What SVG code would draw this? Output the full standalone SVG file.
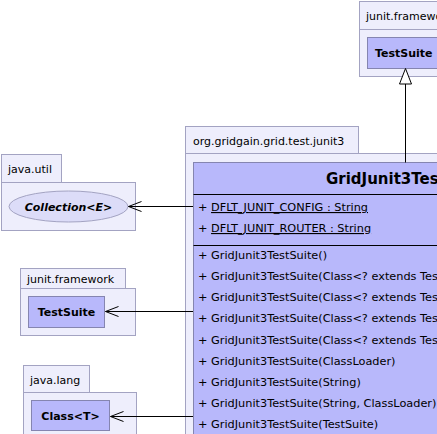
<svg xmlns="http://www.w3.org/2000/svg" width="437" height="434" viewBox="0 0 437 434">
<defs>
<style>
.pkg{fill:#eeeefc;stroke:#a3a3c2;stroke-width:1}
.cls{fill:#b8b8fb;stroke:#8585b0;stroke-width:1}
.ell{fill:#dcdcf8;stroke:#a3a3c2;stroke-width:1}
.t{font-family:"DejaVu Sans","Liberation Sans",sans-serif;font-size:11px;fill:#000}
.m{font-size:11.3px}
.b{font-weight:bold}
.i{font-style:italic}
.sep{stroke:#000;stroke-width:1}
.edge{stroke:#000;stroke-width:1;fill:none}
</style>
</defs>
<rect width="437" height="434" fill="#fff"/>
<g id="pkg-junit-framework-top">
<rect class="pkg" x="359.5" y="1.5" width="90" height="28"/>
<rect class="pkg" x="359.5" y="29.5" width="90" height="47"/>
<text class="t" x="366" y="20">junit.framework</text>
</g>
<g id="TestSuite-top">
<rect class="cls" x="367.5" y="37.5" width="80" height="31"/>
<text class="t b" x="375" y="57">TestSuite</text>
</g>
<g id="pkg-org-gridgain">
<rect class="pkg" x="185.5" y="126.5" width="173" height="27"/>
<rect class="pkg" x="185.5" y="153.5" width="260" height="290"/>
<text class="t" x="193" y="145">org.gridgain.grid.test.junit3</text>
</g>
<g id="GridJunit3TestSuite">
<rect class="cls" x="193.5" y="162.5" width="260" height="280"/>
<text class="t b" x="326" y="184" style="font-size:15px">GridJunit3TestSuite</text>
<line class="sep" x1="193.5" y1="194.5" x2="437" y2="194.5"/>
<text class="t m" x="198" y="211">+ <tspan text-decoration="underline">DFLT_JUNIT_CONFIG : String </tspan></text>
<text class="t m" x="198" y="232">+ <tspan text-decoration="underline">DFLT_JUNIT_ROUTER : String </tspan></text>
<line class="sep" x1="193.5" y1="245.5" x2="437" y2="245.5"/>
<text class="t m" x="198" y="259">+ GridJunit3TestSuite()</text>
<text class="t m" x="198" y="280">+ GridJunit3TestSuite(Class&lt;? extends TestCase&gt;)</text>
<text class="t m" x="198" y="301">+ GridJunit3TestSuite(Class&lt;? extends TestCase&gt;, String)</text>
<text class="t m" x="198" y="322">+ GridJunit3TestSuite(Class&lt;? extends TestCase&gt;[])</text>
<text class="t m" x="198" y="344">+ GridJunit3TestSuite(Class&lt;? extends TestCase&gt;[], String)</text>
<text class="t m" x="198" y="365">+ GridJunit3TestSuite(ClassLoader)</text>
<text class="t m" x="198" y="386">+ GridJunit3TestSuite(String)</text>
<text class="t m" x="198" y="407">+ GridJunit3TestSuite(String, ClassLoader)</text>
<text class="t m" x="198" y="428">+ GridJunit3TestSuite(TestSuite)</text>
</g>
<g id="pkg-java-util">
<rect class="pkg" x="1.5" y="154.5" width="60" height="28"/>
<rect class="pkg" x="1.5" y="182.5" width="134" height="48"/>
<text class="t" x="8" y="173">java.util</text>
</g>
<g id="Collection">
<ellipse class="ell" cx="68.5" cy="206.5" rx="59.5" ry="15.5"/>
<text class="t b i" x="68.5" y="211" text-anchor="middle">Collection&lt;E&gt;</text>
</g>
<g id="pkg-junit-framework-left">
<rect class="pkg" x="20.5" y="268.5" width="105" height="20"/>
<rect class="pkg" x="20.5" y="288.5" width="115" height="47"/>
<text class="t" x="27" y="283">junit.framework</text>
</g>
<g id="TestSuite-left">
<rect class="cls" x="28.5" y="296.5" width="76" height="31"/>
<text class="t b" x="66.5" y="316" text-anchor="middle">TestSuite</text>
</g>
<g id="pkg-java-lang">
<rect class="pkg" x="23.5" y="365.5" width="66" height="27"/>
<rect class="pkg" x="23.5" y="392.5" width="113" height="50"/>
<text class="t" x="30" y="384">java.lang</text>
</g>
<g id="Class">
<rect class="cls" x="31.5" y="400.5" width="78" height="30"/>
<text class="t b" x="70.5" y="420" text-anchor="middle">Class&lt;T&gt;</text>
</g>
<g id="connectors">
<line class="edge" x1="405.5" y1="84" x2="405.5" y2="162.5"/>
<polygon points="405.5,68.5 399.5,84 411.5,84" fill="#fff" stroke="#000" stroke-width="1"/>
<line class="edge" x1="193" y1="206.5" x2="128.5" y2="206.5"/>
<polyline class="edge" points="141.5,201.5 128.5,206.5 141.5,211.5"/>
<line class="edge" x1="193" y1="311.5" x2="105.5" y2="311.5"/>
<polyline class="edge" points="118.5,306.5 105.5,311.5 118.5,316.5"/>
<line class="edge" x1="193" y1="416.5" x2="110.5" y2="416.5"/>
<polyline class="edge" points="123.5,411.5 110.5,416.5 123.5,421.5"/>
</g>
</svg>
